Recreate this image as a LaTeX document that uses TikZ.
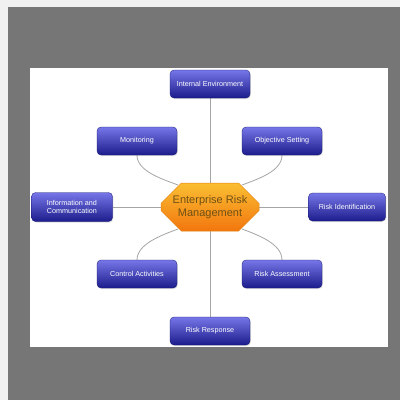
\documentclass[tikz,border=0pt]{standalone}
\usepackage{fontspec}
\setmainfont{Liberation Sans}
\usetikzlibrary{shapes.misc,shadows,calc}
\definecolor{boxtop}{RGB}{118,118,232}
\definecolor{boxbot}{RGB}{28,28,140}
\definecolor{octtop}{RGB}{250,190,50}
\definecolor{octbot}{RGB}{242,118,14}
\definecolor{octline}{RGB}{225,130,20}
\definecolor{octtext}{RGB}{110,80,20}
\definecolor{frame}{RGB}{118,118,118}
\definecolor{outer}{RGB}{240,240,240}
\definecolor{conn}{RGB}{165,165,165}
\pgfdeclarelayer{bg}
\pgfdeclarelayer{lines}
\pgfsetlayers{bg,lines,main}
\tikzset{
  box/.style={rectangle, rounded corners=4pt, top color=boxtop, bottom color=boxbot,
    draw=boxbot!80!black, line width=0.3pt, minimum width=80pt, minimum height=28pt,
    inner sep=1pt, text=white, font=\fontsize{7.2}{8.4}\selectfont, align=center,
    drop shadow={opacity=0.25, shadow xshift=0.8pt, shadow yshift=-1pt}},
  hub/.style={chamfered rectangle, chamfered rectangle xsep=15pt, chamfered rectangle ysep=12pt,
    top color=octtop, bottom color=octbot, draw=octline, line width=0.5pt,
    minimum width=98pt, minimum height=48pt, inner xsep=-8pt, inner ysep=-3pt, text=octtext,
    font=\fontsize{11}{12.5}\selectfont, align=center},
  link/.style={draw=conn, line width=0.8pt}
}
\begin{document}
\begin{tikzpicture}[x=1pt,y=-1pt]
\begin{pgfonlayer}{bg}
\fill[outer] (0,0) rectangle (400,400);
\fill[frame] (8,7) rectangle (400,400);
\fill[white] (30,68) rectangle (388,347);
\end{pgfonlayer}
\useasboundingbox (0,0) rectangle (400,400);
\node[hub] (ctr) at (210,207) {Enterprise Risk\\Management};
\node[box] (ie) at (210,84) {Internal Environment};
\node[box] (mon) at (137,141) {Monitoring};
\node[box] (obj) at (282,141) {Objective Setting};
\node[box, minimum width=81pt, minimum height=29pt] (info) at (72,207) {Information and\\Communication};
\node[box, minimum width=77pt] (rid) at (347,207) {Risk Identification};
\node[box] (ca) at (137,274) {Control Activities};
\node[box] (ra) at (282,274) {Risk Assessment};
\node[box] (rr) at (210,331) {Risk Response};
\begin{pgfonlayer}{lines}
\draw[link] (ie.south) -- (rr.north);
\draw[link] (info.east) -- (rid.west);
\draw[link] (mon.south) .. controls +(0,16) and +(-16,-6) .. ($(ctr.center)+(-32,-22)$);
\draw[link] (obj.south) .. controls +(0,16) and +(16,-6) .. ($(ctr.center)+(32,-22)$);
\draw[link] (ca.north) .. controls +(0,-16) and +(-16,6) .. ($(ctr.center)+(-32,22)$);
\draw[link] (ra.north) .. controls +(0,-16) and +(16,6) .. ($(ctr.center)+(32,22)$);
\end{pgfonlayer}
\end{tikzpicture}
\end{document}
